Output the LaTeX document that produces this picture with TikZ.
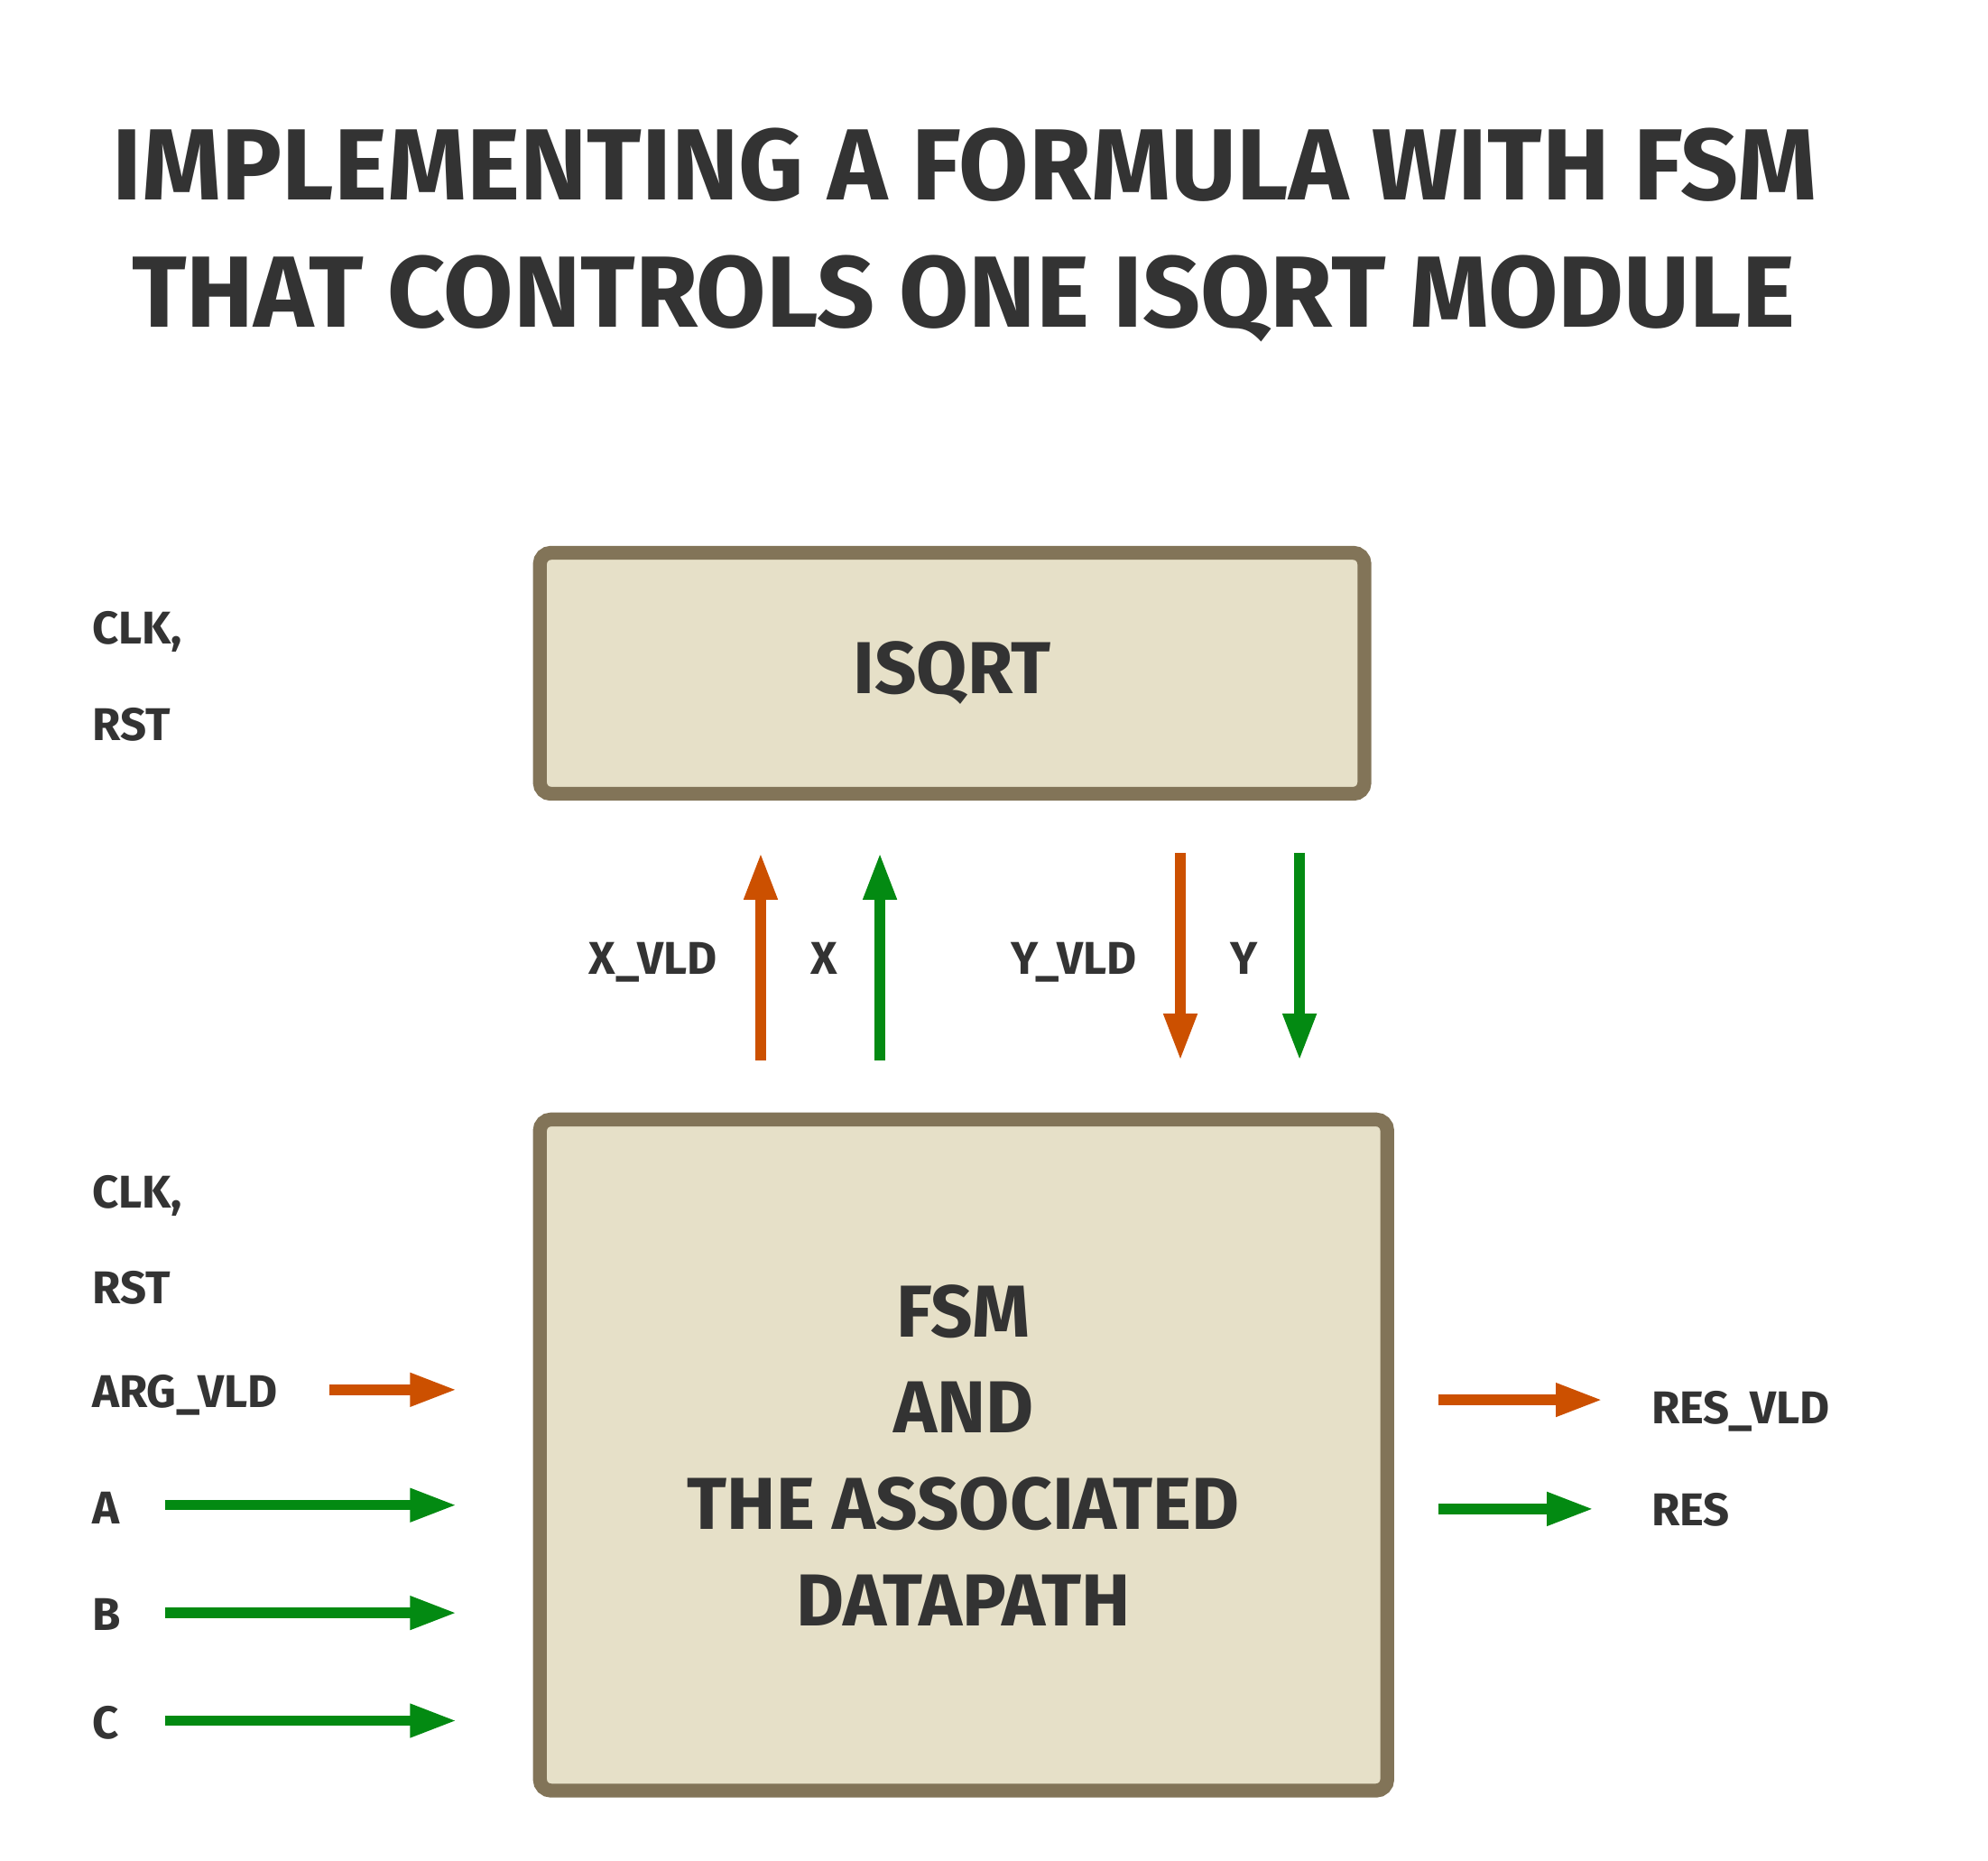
\documentclass[tikz,border=0pt]{standalone}
\usepackage{fontspec}
\setmainfont{Fira Sans}
\usepackage{tikz}
\usetikzlibrary{positioning, arrows.meta}

\definecolor{boxfill}{HTML}{E6E0C8}
\definecolor{boxline}{HTML}{827458}
\definecolor{vldorange}{HTML}{CC5000}
\definecolor{datagreen}{HTML}{038A12}
\definecolor{ink}{HTML}{333333}

\tikzset{
  block/.style={draw=boxline, fill=boxfill, line width=3.1pt, rounded corners=2.5pt,
    text=ink, align=center, font=\bfseries\fontsize{16.5}{21.6}\selectfont},
  sig/.style={text=ink, inner sep=0pt, font=\bfseries\fontsize{10.3}{12}\selectfont},
  heading/.style={text=ink, inner sep=0pt, anchor=base, font=\bfseries\fontsize{22.7}{28}\selectfont},
  vld/.style={draw=vldorange, line width=2.3pt, -{Triangle[length=10.5pt, width=7pt]}},
  dat/.style={draw=datagreen, line width=2.3pt, -{Triangle[length=10.5pt, width=7pt]}}
}

\begin{document}
\begin{tikzpicture}[x=0.01cm, y=-0.01cm]
\useasboundingbox (0,0) rectangle (1568,1467);

% Title
\node[heading] (title1) at (761,158) {IMPLEMENTING A FORMULA WITH FSM};
\node[heading] (title2) at (760,258) {THAT CONTROLS ONE ISQRT MODULE};

% Blocks
\node[block, minimum width=6.5cm, minimum height=1.9cm] (isqrt) at (751,531) {ISQRT};
\node[block, minimum width=6.68cm, minimum height=5.29cm] (fsm) at (760,1147.5)
  {FSM\\AND\\THE ASSOCIATED\\DATAPATH};

% Clock and reset labels
\node[sig, anchor=base west] (clk1) at (72,508) {CLK,};
\node[sig, anchor=base west] (rst1) at (72,584) {RST};
\node[sig, anchor=base west] (clk2) at (72,953) {CLK,};
\node[sig, anchor=base west] (rst2) at (72,1028) {RST};

% Inputs of the FSM
\node[sig, anchor=base west] (argvld) at (72,1110) {ARG\_VLD};
\node[sig, anchor=base west] (ina) at (72,1202) {A};
\node[sig, anchor=base west] (inb) at (72,1286) {B};
\node[sig, anchor=base west] (inc) at (72,1371) {C};

\coordinate (argvld s) at (260,1096);
\coordinate (ina s) at (130,1187);
\coordinate (inb s) at (130,1272);
\coordinate (inc s) at (130,1357);

\draw[vld, shorten >=0.6cm] (argvld s) -- (argvld s -| fsm.west);
\draw[dat, shorten >=0.6cm] (ina s) -- (ina s -| fsm.west);
\draw[dat, shorten >=0.6cm] (inb s) -- (inb s -| fsm.west);
\draw[dat, shorten >=0.6cm] (inc s) -- (inc s -| fsm.west);

% Outputs of the FSM
\node[sig, anchor=base west] (resvld) at (1302,1123) {RES\_VLD};
\node[sig, anchor=base west] (res) at (1302,1203) {RES};

\coordinate (resvld e) at (1264,1104);
\coordinate (res e) at (1257,1190);

\draw[vld, shorten <=0.35cm] (resvld e -| fsm.east) -- (resvld e);
\draw[dat, shorten <=0.35cm] (res e -| fsm.east) -- (res e);

% Signals between FSM and ISQRT
\node[sig, anchor=base east] (xvld) at (566,768) {X\_VLD};
\node[sig, anchor=base] (xdat) at (650,768) {X};
\node[sig, anchor=base east] (yvld) at (897,768) {Y\_VLD};
\node[sig, anchor=base] (ydat) at (981,768) {Y};

\coordinate (xvld c) at (600,755);
\coordinate (xdat c) at (694,755);
\coordinate (yvld c) at (931,755);
\coordinate (ydat c) at (1025,755);

\draw[vld, shorten <=0.41cm, shorten >=0.41cm] (xvld c |- fsm.north) -- (xvld c |- isqrt.south);
\draw[dat, shorten <=0.41cm, shorten >=0.41cm] (xdat c |- fsm.north) -- (xdat c |- isqrt.south);
\draw[vld, shorten <=0.41cm, shorten >=0.41cm] (yvld c |- isqrt.south) -- (yvld c |- fsm.north);
\draw[dat, shorten <=0.41cm, shorten >=0.41cm] (ydat c |- isqrt.south) -- (ydat c |- fsm.north);

\end{tikzpicture}
\end{document}
